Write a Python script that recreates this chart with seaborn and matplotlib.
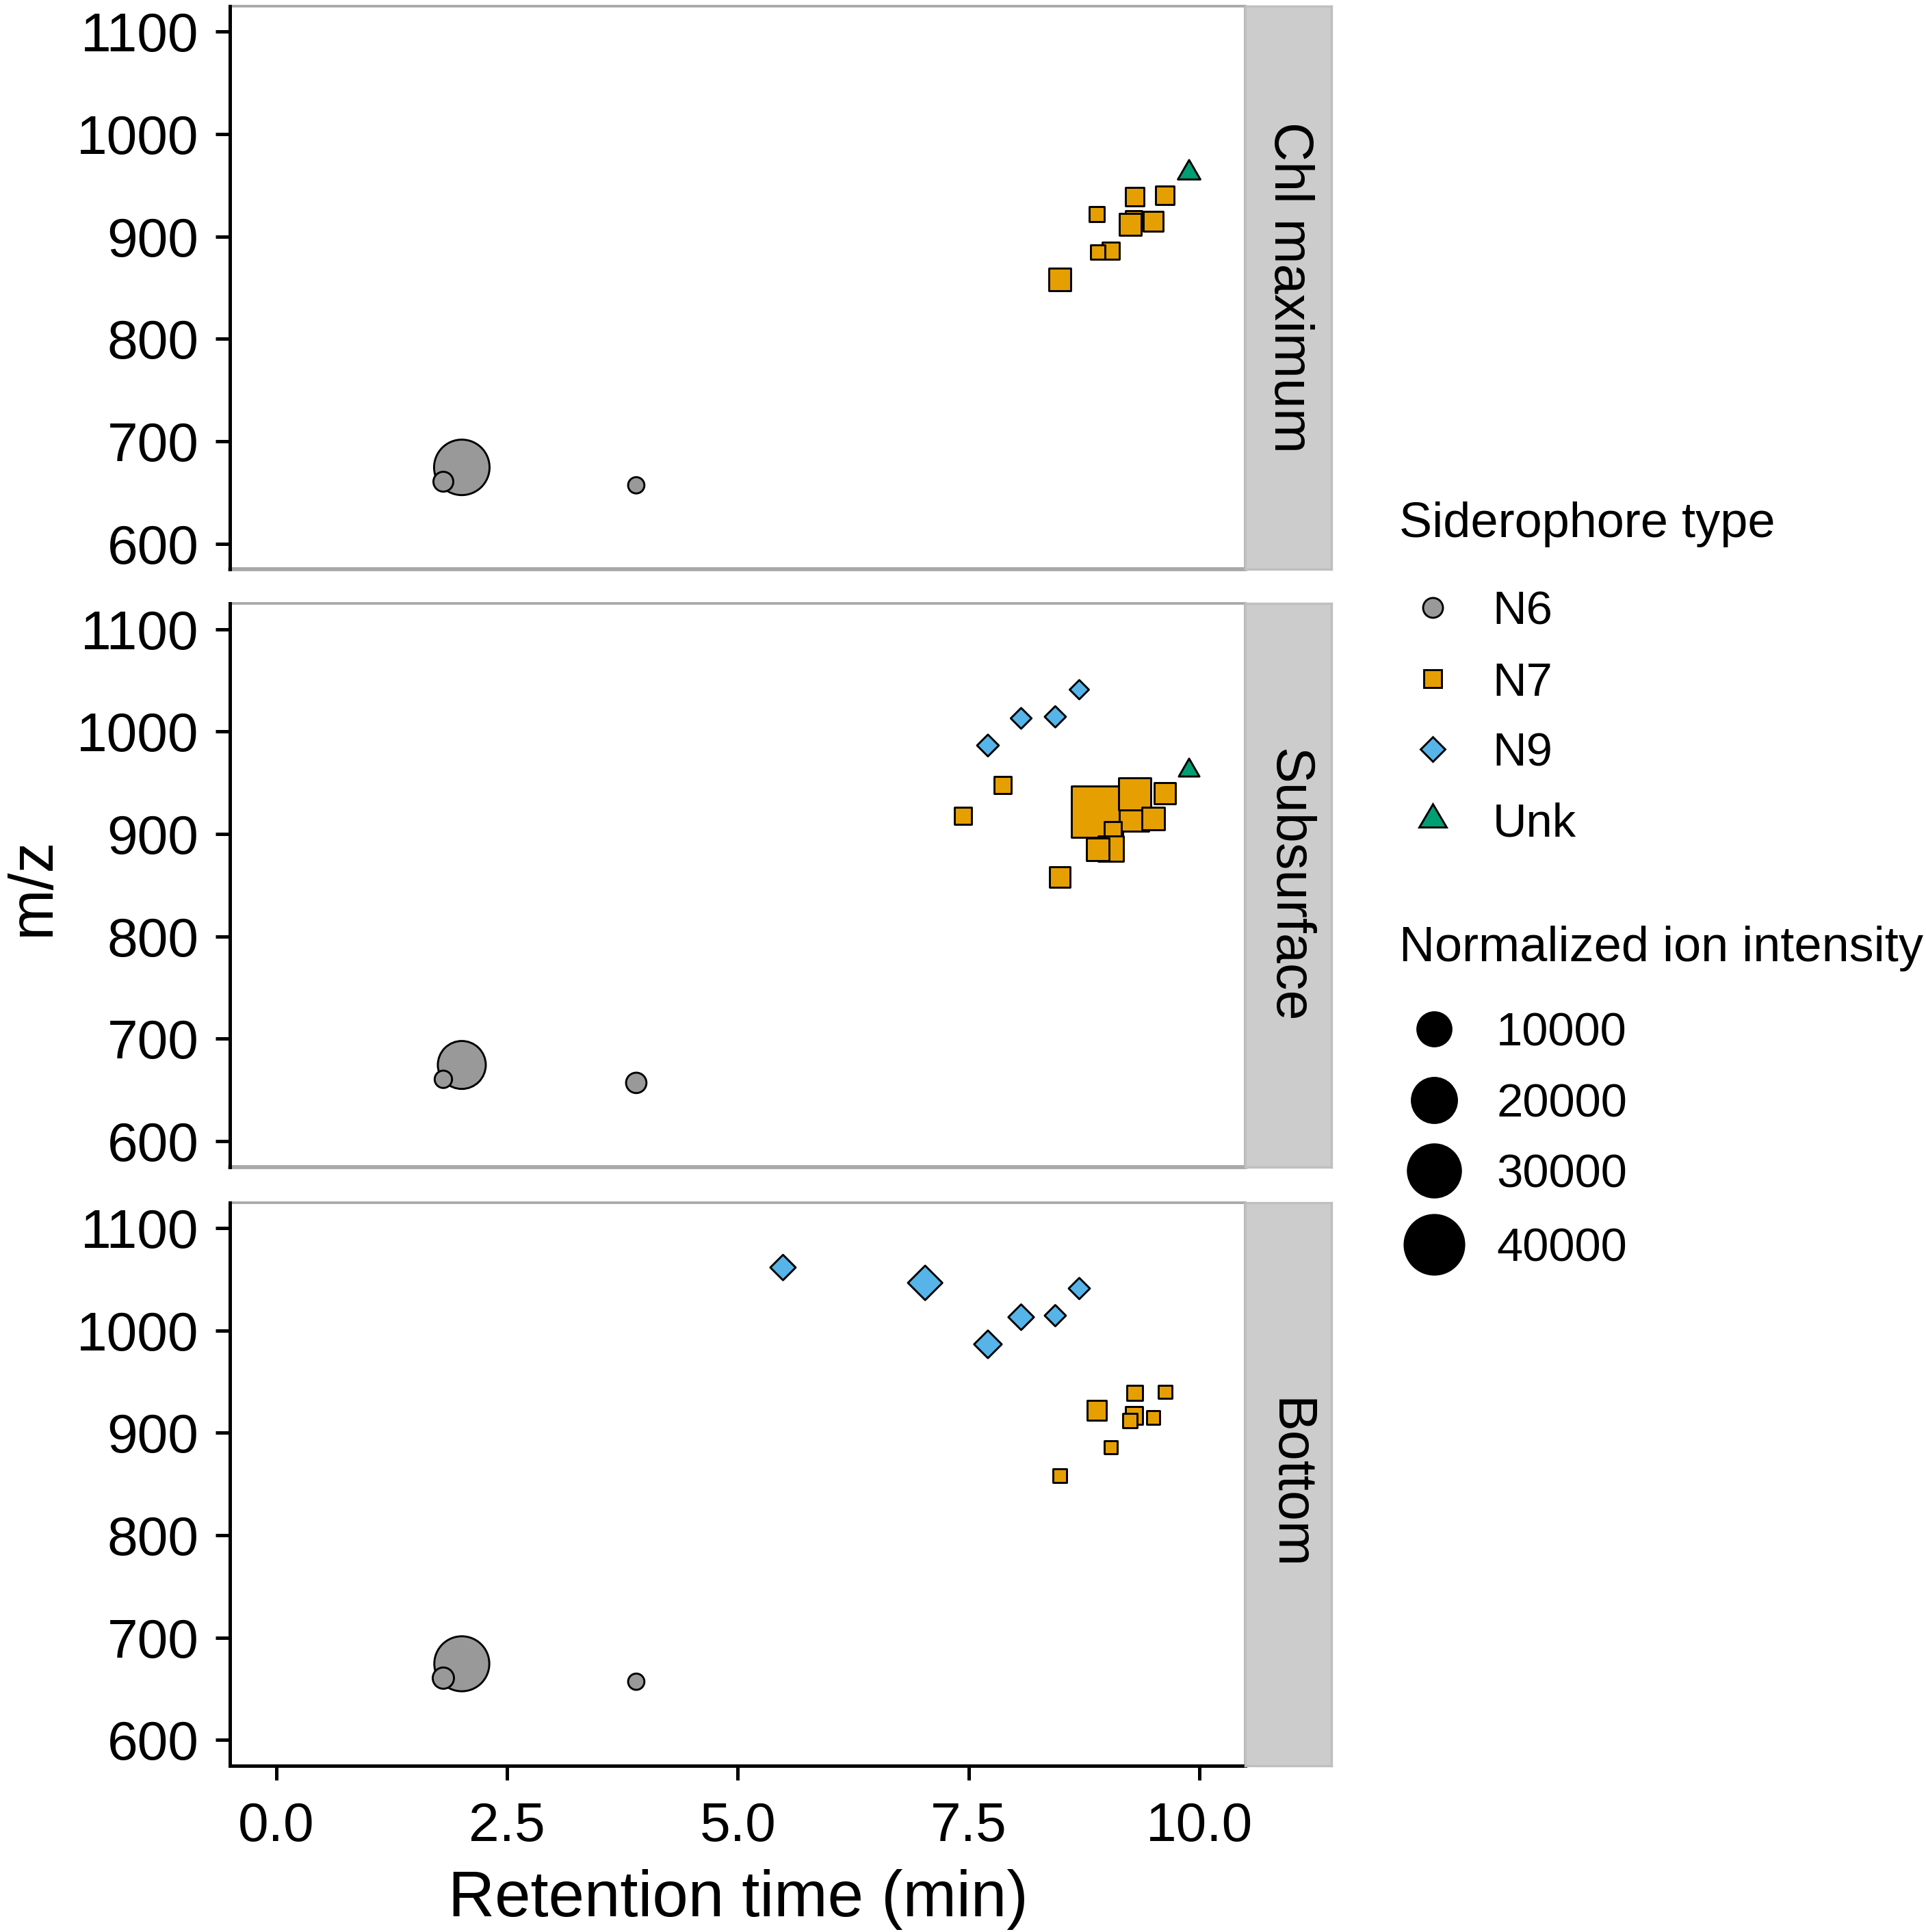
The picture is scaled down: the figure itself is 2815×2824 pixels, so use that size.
import numpy as np
import pandas as pd
import matplotlib
matplotlib.use("Agg")
import matplotlib.pyplot as plt
import seaborn as sns
from matplotlib.markers import MarkerStyle
from matplotlib.transforms import Affine2D
from matplotlib.lines import Line2D

# ---------------- data ----------------
depths = ["Chl maximum", "Subsurface", "Bottom"]
siderophore_types = ["N6", "N7", "N9", "Unk"]
type_colors = ["#999999", "#E69F00", "#56B4E9", "#009E73"]

compound_type = ["N6", "N6", "N6",
                 "N7", "N7", "N7", "N7", "N7", "N7", "N7", "N7", "N7", "N7", "N7", "N7",
                 "N9", "N9", "N9", "N9", "N9", "N9",
                 "Unk"]
retention_time = [2.01, 3.90, 1.81,
                  8.89, 9.29, 9.06, 9.25, 9.04, 8.90, 9.30, 9.50, 9.63, 8.49, 7.87, 7.44,
                  5.49, 7.03, 7.71, 8.07, 8.44, 8.70,
                  9.89]
mz = [674.5, 657.0, 660.5,
      922.0, 917.0, 904.0, 912.0, 886.0, 885.0, 939.0, 915.0, 940.0, 858.0, 948.0, 918.0,
      1061.5, 1046.5, 986.5, 1013.0, 1014.5, 1041.0,
      962.0]
nan = np.nan
intensity_chl_max = [33450, 3365, 3760,
                     3408, 3565, nan, 5060, 3673, 3365, 3965, 4330, 3965, 5060, nan, nan,
                     nan, nan, nan, nan, nan, nan,
                     3386]
intensity_subsurface = [23270, 3853, 3434,
                        37350, 9415, 3673, nan, 6730, 5340, 11650, 5210, 4800, 4565, 3640, 3640,
                        nan, nan, 3434, 3382, 3403, 3341,
                        3341]
intensity_bottom = [32740, 3365, 4040,
                    4140, 3673, nan, 3375, 3340, nan, 3450, 3340, 3340, 3345, nan, nan,
                    3827, 6174, 4240, 3866, 3403, 3403,
                    nan]
size_breaks = [10000, 20000, 30000, 40000]
x_ticks = [0.0, 2.5, 5.0, 7.5, 10.0]
y_ticks = [600, 700, 800, 900, 1000, 1100]

frames = []
for depth, inten in zip(depths, [intensity_chl_max, intensity_subsurface, intensity_bottom]):
    frames.append(pd.DataFrame({"depth": depth, "type": compound_type,
                                "rt": retention_time, "mz": mz, "intensity": inten}))
df = pd.concat(frames, ignore_index=True).dropna(subset=["intensity"])

# ---------------- styling ----------------
sns.set_style("white")
plt.rcParams["font.family"] = ["Liberation Sans", "DejaVu Sans"]
plt.rcParams["text.color"] = "black"
plt.rcParams["axes.labelcolor"] = "black"
plt.rcParams["xtick.color"] = "black"
plt.rcParams["ytick.color"] = "black"

DPI = 300
W_PX, H_PX = 2815, 2824
EDGE = 0.7  # marker outline, pt


def marker_area(v):
    """ggplot-like area scale: diameter grows with sqrt of intensity."""
    d_px = 25.0 + 0.34 * np.sqrt(np.maximum(np.asarray(v, float) - 3340.0, 0.0))
    d_pt = d_px * 72.0 / DPI - EDGE
    return d_pt ** 2


size_lookup = {v: float(marker_area(v)) for v in df["intensity"].unique()}

marker_styles = {
    "N6": MarkerStyle("o"),
    "N7": MarkerStyle("s", transform=Affine2D().scale(0.886)),
    "N9": MarkerStyle("D", transform=Affine2D().scale(0.886)),
    "Unk": MarkerStyle("^", transform=Affine2D().scale(1.347, 1.166).translate(0, 0.194)),
}
palette = dict(zip(siderophore_types, type_colors))

fig = plt.figure(figsize=(W_PX / DPI, H_PX / DPI), dpi=DPI)


def fx(px):
    return px / 1565.0


def fy(py):
    return 1.0 - py / 1568.0


L = fx(187)
W = fx(1012) - fx(187)
SW = fx(1082) - fx(1012)
H = 0.2915
bottoms = [fy(462), fy(947), fy(1433)]

GREY_LINE = "#A8A8A8"

for i, depth in enumerate(depths):
    ax = fig.add_axes([L, bottoms[i], W, H])
    sub = df[df["depth"] == depth]
    sns.scatterplot(data=sub, x="rt", y="mz", hue="type", style="type", size="intensity",
                    hue_order=siderophore_types, style_order=siderophore_types,
                    palette=palette, markers=marker_styles, sizes=size_lookup,
                    edgecolor="black", linewidth=EDGE, legend=False, ax=ax)
    ax.set_xlim(-0.5, 10.5)
    ax.set_ylim(575, 1125)
    ax.set_xticks(x_ticks)
    ax.set_xticklabels([f"{t:.1f}" for t in x_ticks])
    ax.set_yticks(y_ticks)
    ax.set_xlabel("")
    ax.set_ylabel("")
    for s in ["top", "right"]:
        ax.spines[s].set_color(GREY_LINE)
        ax.spines[s].set_linewidth(0.9)
    ax.spines["left"].set_color("black")
    ax.spines["left"].set_linewidth(1.2)
    ax.spines["left"].set_zorder(5)
    ax.tick_params(axis="y", length=5, width=1.2, pad=6, labelsize=19.3,
                   colors="black", labelcolor="black", left=True)
    if i == len(depths) - 1:
        ax.spines["bottom"].set_color("black")
        ax.spines["bottom"].set_linewidth(1.2)
        ax.tick_params(axis="x", length=5, width=1.2, pad=7.5, labelsize=19.3,
                       colors="black", labelcolor="black", bottom=True)
    else:
        ax.spines["bottom"].set_color(GREY_LINE)
        ax.spines["bottom"].set_linewidth(1.4)
        ax.tick_params(axis="x", bottom=False, labelbottom=False)

    sax = fig.add_axes([L + W, bottoms[i], SW, H], facecolor="#CCCCCC")
    sax.set_xticks([])
    sax.set_yticks([])
    for sp in sax.spines.values():
        sp.set_color("#BFBFBF")
        sp.set_linewidth(0.8)
    sax.text(0.5, 0.5, depth, rotation=270, ha="center", va="center",
             fontsize=19, color="black", transform=sax.transAxes)

# axis titles
fig.text(fx(27), fy(720), "m/z", rotation=90, ha="center", va="center",
         fontsize=21.5, color="black")
fig.text(fx(600), fy(1555), "Retention time (min)", ha="center", va="baseline",
         fontsize=22.6, color="black")

# ---------------- legends ----------------
KEY_MS = 6.96
type_rows = [493, 551, 608, 665]
fig.text(fx(1137), fy(436), "Siderophore type", fontsize=17.3, ha="left",
         va="baseline", color="black")
for t, c, yc in zip(siderophore_types, type_colors, type_rows):
    fig.add_artist(Line2D([fx(1164)], [fy(yc)], transform=fig.transFigure,
                          marker=marker_styles[t], markersize=KEY_MS,
                          markerfacecolor=c, markeredgecolor="black",
                          markeredgewidth=EDGE, linestyle="none"))
    fig.text(fx(1213), fy(yc + 13.7), t, fontsize=16.5, ha="left", va="baseline",
             color="black")

size_rows = [835, 893, 950, 1010]
fig.text(fx(1137), fy(780), "Normalized ion intensity", fontsize=17.3, ha="left",
         va="baseline", color="black")
for b, yc in zip(size_breaks, size_rows):
    fig.add_artist(Line2D([fx(1165)], [fy(yc)], transform=fig.transFigure,
                          marker="o", markersize=float(np.sqrt(marker_area(b))),
                          markerfacecolor="black", markeredgecolor="black",
                          markeredgewidth=EDGE, linestyle="none"))
    fig.text(fx(1216), fy(yc + 13.7), f"{b}", fontsize=16.5, ha="left", va="baseline",
             color="black")

fig.savefig("out.png", dpi=DPI)
